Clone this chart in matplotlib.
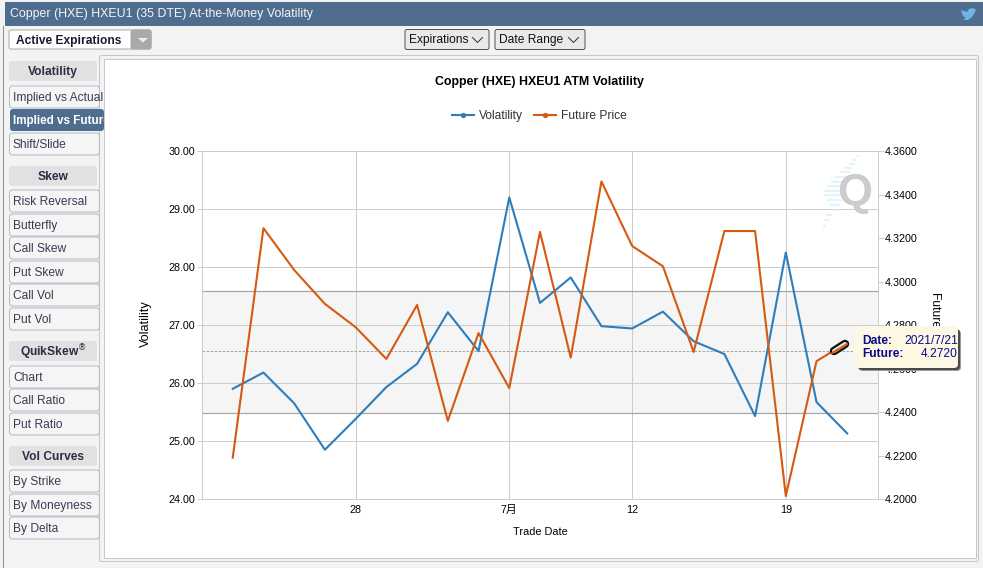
import matplotlib
matplotlib.use("Agg")
import matplotlib.pyplot as plt
from matplotlib.patches import Rectangle, FancyBboxPatch, Polygon

plt.rcParams['font.family'] = ['Liberation Sans', 'Noto Sans CJK SC', 'DejaVu Sans']

W, H = 983, 568
PT = 72 / 100  # one pixel in points

# ---- data ----
indices = list(range(21))
tick_idx = [4, 9, 13, 18]
tick_labels = ['28', '7月', '12', '19']
volatility = [25.90, 26.18, 25.65, 24.85, 25.38, 25.93, 26.33, 27.22, 26.55, 29.20, 27.38,
              27.82, 26.98, 26.94, 27.23, 26.72, 26.50, 25.43, 28.25, 25.67, 25.13]
future = [4.219, 4.3245, 4.3053, 4.2897, 4.279, 4.2644, 4.2892, 4.2359, 4.2763, 4.251, 4.3228,
          4.265, 4.346, 4.3163, 4.307, 4.2676, 4.3232, 4.3232, 4.2014, 4.2634, 4.272]
vol_ticks = [24, 25, 26, 27, 28, 29, 30]
fut_ticks = [4.20, 4.22, 4.24, 4.26, 4.28, 4.30, 4.32, 4.34, 4.36]
band_low, band_high, band_mean = 25.49, 27.59, 26.55
sidebar = [
    ('h', 'Volatility', 71), ('b', 'Implied vs Actual', 97), ('a', 'Implied vs Future', 120),
    ('b', 'Shift/Slide', 144),
    ('h', 'Skew', 176), ('b', 'Risk Reversal', 201), ('b', 'Butterfly', 225), ('b', 'Call Skew', 248),
    ('b', 'Put Skew', 272), ('b', 'Call Vol', 295), ('b', 'Put Vol', 319),
    ('h', 'QuikSkew$^{®}$', 351), ('b', 'Chart', 377), ('b', 'Call Ratio', 400), ('b', 'Put Ratio', 424),
    ('h', 'Vol Curves', 456), ('b', 'By Strike', 481), ('b', 'By Moneyness', 505), ('b', 'By Delta', 528),
]

BLUE, ORANGE = '#2f7ebc', '#d55a12'
fig = plt.figure(figsize=(W / 100, H / 100), dpi=100, facecolor='#f3f3f3')

# ---- page chrome (pixel coordinates) ----
bg = fig.add_axes([0, 0, 1, 1], zorder=0)
bg.set_xlim(0, W); bg.set_ylim(H, 0); bg.axis('off')

def box(ax, x0, y0, x1, y1, fc, ec='none', lw=1, r=0, z=1):
    if r:
        p = FancyBboxPatch((x0, y0), x1 - x0, y1 - y0, boxstyle=f'round,pad=0,rounding_size={r}',
                           fc=fc, ec=ec, lw=lw * PT, zorder=z)
    else:
        p = Rectangle((x0, y0), x1 - x0, y1 - y0, fc=fc, ec=ec, lw=lw * PT, zorder=z)
    ax.add_patch(p)

box(bg, 5, 2, 983, 26, '#4f6d8e')
bg.plot([2.5, 2.5], [26, 568], color='#8f8f8f', lw=1 * PT)
bg.text(10, 14.5, 'Copper (HXE) HXEU1 (35 DTE) At-the-Money Volatility', color='#f4f6f8',
        fontsize=12.4 * PT, va='center', ha='left', fontweight='normal')
# twitter bird
bg.add_patch(Polygon([(961, 10), (964, 11), (967, 12), (969, 9), (972, 8), (975, 9), (976, 10), (974, 14),
                      (972, 17), (968, 20), (963, 20), (966, 18), (963, 16), (962, 13)],
                     fc='#6fb4e8', ec='none', zorder=3))

# dropdown
box(bg, 9, 30, 151, 49, 'white', '#a8a8a8', 1, 2)
box(bg, 131, 30, 151, 49, '#a9a9a9', '#a9a9a9', 1, 2, z=2)
bg.add_patch(Polygon([(138, 38), (148, 38), (143, 42.5)], fc='#f0f0f0', ec='none', zorder=3))
bg.text(16, 41, 'Active Expirations', color='#1a1a30', fontsize=12 * PT, fontweight='bold', va='center')

for x0, x1, lab in [(405, 489, 'Expirations'), (495, 585, 'Date Range')]:
    box(bg, x0, 29.5, x1, 49.5, '#e9e9e9', '#555555', 1, 2)
    bg.text(x0 + 4, 40, lab, color='#111111', fontsize=12 * PT, va='center')
    bg.plot([x1 - 16.5, x1 - 11.5, x1 - 6.5], [37.5, 42.5, 37.5], color='#333333', lw=1 * PT, zorder=3)

# chart panel strip sits under the sidebar buttons, the white sheet above them
box(bg, 99.5, 55.5, 978.5, 561.5, '#f3f3f3', '#c6c6ce', 1, 2, z=0.5)

# sidebar
for kind, lab, y in sidebar:
    if kind == 'h':
        box(bg, 9, y - 10, 97, y + 10, '#e1e1e1', r=3)
        bg.text(53, y + 1, lab, color='#2d2d44', fontsize=12 * PT, fontweight='bold', ha='center', va='center')
    elif kind == 'a':
        box(bg, 10, y - 11, 104, y + 11, '#4f6d8e', r=3)
        bg.text(13, y + 1, lab, color='white', fontsize=11.6 * PT, fontweight='bold', va='center')
    else:
        box(bg, 9.5, y - 11, 99.5, y + 11, '#f5f5f5', '#b9b9c6', 1, 3)
        bg.text(13, y + 1, lab, color='#3a3a55', fontsize=12 * PT, va='center')

box(bg, 103.5, 58.5, 975.5, 557.5, 'white', '#c6c6ce', 1, z=6)

# ---- chart ----
ax = fig.add_axes([202 / W, 1 - 499 / H, 676 / W, 348 / H], zorder=2)
ax.patch.set_alpha(0)
ax2 = ax.twinx()
ax2.set_zorder(3); ax2.patch.set_alpha(0)

ax.set_xlim(-1, 21)
ax.set_ylim(24, 30)
ax2.set_ylim(4.20, 4.36)
grid = '#cccccc'
ax.axhspan(band_low, band_high, color='#f5f5f5', lw=0, zorder=0)
ax.set_xticks(tick_idx, tick_labels)
ax.set_yticks(vol_ticks, [f'{v:.2f}' for v in vol_ticks])
ax2.set_yticks(fut_ticks, [f'{v:.4f}' for v in fut_ticks])
ax.grid(True, color=grid, lw=1 * PT, zorder=1)
ax.set_axisbelow(True)
for s in ax.spines.values():
    s.set_color(grid); s.set_linewidth(1 * PT)
for s in ax2.spines.values():
    s.set_visible(False)
ax.axhline(band_low, color='#a6a6a6', lw=1.2 * PT, zorder=1.5)
ax.axhline(band_high, color='#a6a6a6', lw=1.2 * PT, zorder=1.5)
ax.axhline(band_mean, color='#a6a6a6', lw=1 * PT, ls=(0, (2.5, 1.5)), zorder=1.5)
ax.tick_params(axis='y', length=5.5 * PT, width=1 * PT, color=grid, labelsize=10.8 * PT, pad=1.5 * PT, labelcolor='black')
ax.tick_params(axis='x', length=0, labelsize=10.8 * PT, pad=4, labelcolor='black')
ax2.tick_params(axis='y', length=5.5 * PT, width=1 * PT, color=grid, labelsize=10.8 * PT, pad=1 * PT, labelcolor='black')

l1, = ax.plot(indices, volatility, color=BLUE, lw=2.1 * PT, zorder=3, solid_joinstyle='round')
l2, = ax2.plot(indices, future, color=ORANGE, lw=2.1 * PT, zorder=3, solid_joinstyle='round')

ax.set_xlabel('Trade Date', fontsize=11 * PT, labelpad=0)
ax.xaxis.set_label_coords(0.5, -(532 - 499) / 348, transform=ax.transAxes)
ax.xaxis.label.set_va('center')
ax.set_ylabel('Volatility', fontsize=12.6 * PT)
ax.yaxis.set_label_coords((146 - 202) / 676, 0.5 + 1 / 348, transform=ax.transAxes)
ax.yaxis.label.set_va('center')
ax2.set_ylabel('Future Price', fontsize=12 * PT, rotation=270)
ax2.yaxis.set_label_coords((935 - 202) / 676, 0.5, transform=ax2.transAxes)
ax2.yaxis.label.set_va('center')

# ---- title, legend, watermark, tooltip ----
top = fig.add_axes([0, 0, 1, 1], zorder=4)
top.set_xlim(0, W); top.set_ylim(H, 0); top.axis('off'); top.patch.set_alpha(0)
top.text(539.5, 82.5, 'Copper (HXE) HXEU1 ATM Volatility', fontsize=12.4 * PT, fontweight='bold',
         ha='center', va='center', color='black')
top.plot([452, 474], [114.5, 114.5], color=BLUE, lw=2.1 * PT)
top.plot([463], [114.5], 'o', color=BLUE, ms=3 * PT * 1.3)
top.text(479, 119, 'Volatility', fontsize=12 * PT, va='baseline', color='#333333')
top.plot([534, 556], [114.5, 114.5], color=ORANGE, lw=2.1 * PT)
top.plot([545], [114.5], 'o', color=ORANGE, ms=3 * PT * 1.3)
top.text(561, 119, 'Future Price', fontsize=12 * PT, va='baseline', color='#333333')

# watermark
stripes = [(857, 859, 156), (853, 857, 160), (849, 855, 164), (844, 852, 168), (840, 850, 172), (835, 848, 177),
           (831, 846, 182), (827, 845, 186), (824, 844, 191), (824, 844, 195), (827, 842, 200), (830, 840, 205),
           (833, 838, 210), (826, 832, 215), (824, 829, 220), (823, 826, 226)]
for x0, x1, y in stripes:
    top.plot([x0, x1], [y, y], color='#d6f0fa', lw=1.6 * PT, alpha=.9, solid_capstyle='butt')
top.text(855, 193, 'Q', color='#cccccc', fontsize=45 * PT, fontweight='bold', ha='center', va='center')

# hover capsule
top.plot([834, 845], [351, 344], color='#111111', lw=8.5 * PT, solid_capstyle='round')
top.plot([834, 845], [351, 344], color='#f2e8d8', lw=4 * PT, solid_capstyle='round')
top.plot([832, 847], [353, 344], color=ORANGE, lw=2 * PT)

# tooltip
box(top, 859, 330, 961, 371, '#9a9a9a', r=4, z=6.5)
box(top, 858, 329, 960, 370, '#4a4a4a', r=4, z=7)
box(top, 855, 326, 958, 368, '#fdf8e4', r=4, z=8)
top.add_patch(Polygon([(855, 339), (849, 347), (855, 353)], fc='#fdf8e4', ec='none', zorder=8))
navy = '#0a0a8c'
top.text(862, 340.5, 'Date:', color=navy, fontsize=12 * PT, fontweight='bold', va='center', zorder=9)
top.text(862, 354, 'Future:', color=navy, fontsize=12 * PT, fontweight='bold', va='center', zorder=9)
top.text(958, 340.5, '2021/7/21', color=navy, fontsize=12 * PT, ha='right', va='center', zorder=9)
top.text(958, 354, '4.2720', color=navy, fontsize=12 * PT, ha='right', va='center', zorder=9)

fig.savefig('out.png', dpi=100, facecolor=fig.get_facecolor())
